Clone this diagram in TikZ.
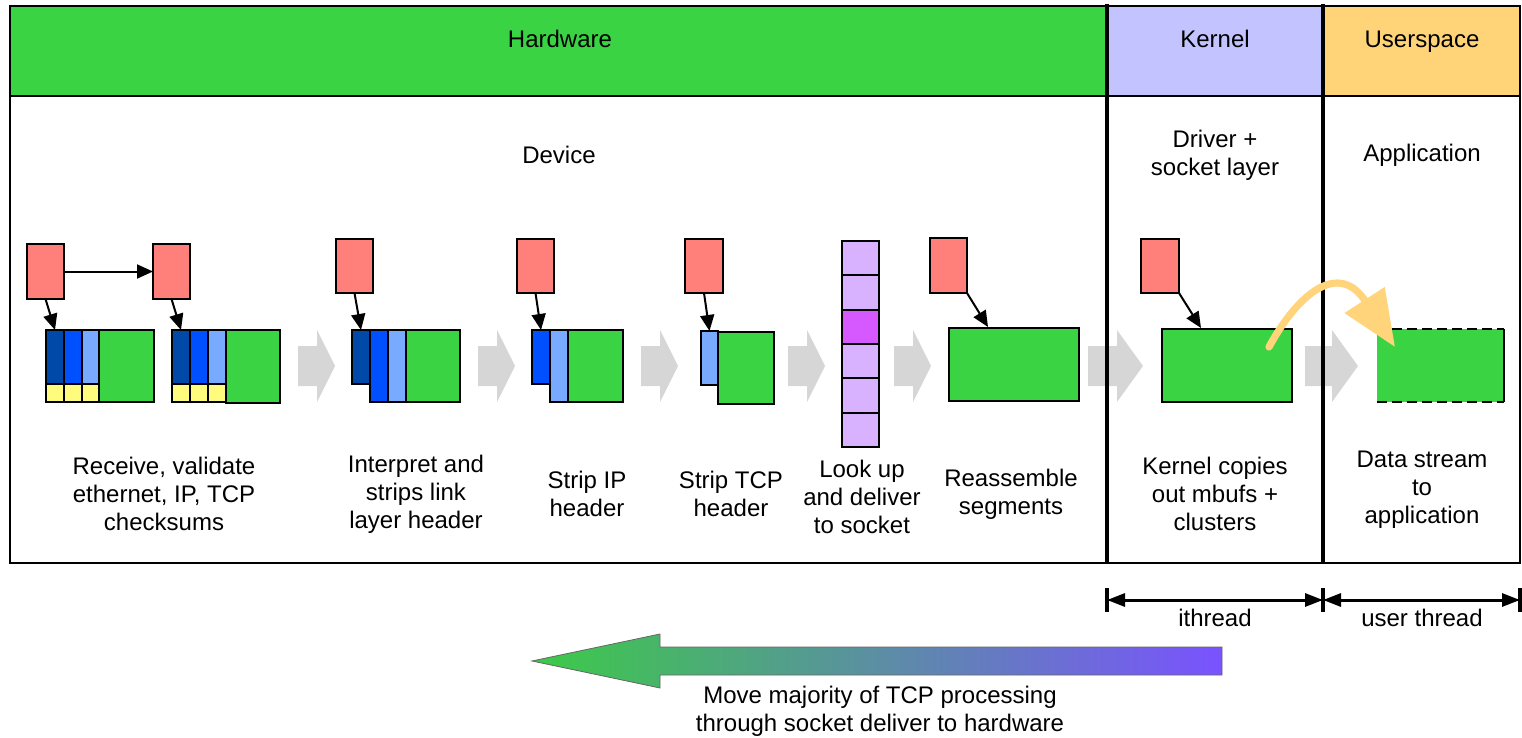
\documentclass[tikz,border=0pt]{standalone}
\usepackage{fontspec}
\setmainfont{Liberation Sans}
\usetikzlibrary{arrows.meta}
\definecolor{hwgreen}{HTML}{3AD344}
\definecolor{kern}{HTML}{C3C3FF}
\definecolor{user}{HTML}{FFD479}
\definecolor{redb}{HTML}{FF7F7B}
\definecolor{dblue}{HTML}{0049A8}
\definecolor{mblue}{HTML}{0050FF}
\definecolor{lblue}{HTML}{78AAFF}
\definecolor{yel}{HTML}{FFFB7D}
\definecolor{lpur}{HTML}{D8B1FF}
\definecolor{mag}{HTML}{D658FF}
\definecolor{garrowc}{HTML}{D6D6D6}
\definecolor{curvec}{HTML}{FFD47A}
\definecolor{gradA}{HTML}{3CCB47}
\definecolor{gradB}{HTML}{7A52FF}
\newcommand\mybox[7]{\node[#6, anchor=north west, inner sep=0pt, outer sep=0pt, minimum width={(#4-#2)*0.5pt}, minimum height={(#5-#3)*0.5pt}] (#1) at (#2,#3) {#7};}
\newcommand\garrow[3]{\fill[garrowc] (#1,346) -- ++(#2,0) -- ++(0,-16) -- ++(#3,36) -- ++(-#3,36) -- ++(0,-16) -- ++(-#2,0) -- cycle;}
\tikzset{
  seg/.style={draw=black, line width=1pt},
  pk/.style={seg, fill=hwgreen},
  redbox/.style={seg, fill=redb},
  cell/.style={seg, fill=lpur},
  ptr/.style={draw=black, line width=1pt, -{Triangle[length=8pt,width=7pt]}},
  lbl/.style={align=center, font=\fontsize{12}{14}\selectfont, inner sep=0pt},
  thick bar/.style={line width=2.2pt, draw=black},
}
\begin{document}
\begin{tikzpicture}[x=0.5pt,y=-0.5pt]
\useasboundingbox (0,0) rectangle (1522,738);
% header bands
\mybox{hw}{10}{6}{1107}{96}{fill=hwgreen}{}
\mybox{kn}{1107}{6}{1323}{96}{fill=kern}{}
\mybox{us}{1323}{6}{1520}{96}{fill=user}{}
\node[lbl, anchor=base] (thw) at (560,48) {Hardware};
\node[lbl, anchor=base] (tkn) at (1215,48) {Kernel};
\node[lbl, anchor=base] (tus) at (1422,48) {Userspace};
\draw[line width=1pt] (10,6) rectangle (1520,563);
\draw[line width=1pt] (10,96) -- (1520,96);
% section titles
\node[lbl] (tdev) at (559,155) {Device};
\node[lbl] (tdrv) at (1215,155) {Driver +\\socket layer};
\node[lbl] (tapp) at (1422,155) {Application};
% gray flow arrows
\garrow{298}{19}{18}
\garrow{478}{19}{18}
\garrow{641}{19}{18}
\garrow{788}{19}{18}
\garrow{894}{19}{18}
\garrow{1088}{29}{26}
\garrow{1305}{27}{26}
% packet 1
\mybox{p1g}{99}{330}{154}{402}{pk}{}
\mybox{p1a}{46}{330}{64}{384}{seg, fill=dblue}{}
\mybox{p1b}{64}{330}{82}{384}{seg, fill=mblue}{}
\mybox{p1c}{82}{330}{99}{384}{seg, fill=lblue}{}
\mybox{p1x}{46}{384}{64}{402}{seg, fill=yel}{}
\mybox{p1y}{64}{384}{82}{402}{seg, fill=yel}{}
\mybox{p1z}{82}{384}{99}{402}{seg, fill=yel}{}
% packet 2
\mybox{p2a}{172}{330}{190}{384}{seg, fill=dblue}{}
\mybox{p2b}{190}{330}{208}{384}{seg, fill=mblue}{}
\mybox{p2c}{208}{330}{226}{384}{seg, fill=lblue}{}
\mybox{p2x}{172}{384}{190}{402}{seg, fill=yel}{}
\mybox{p2y}{190}{384}{208}{402}{seg, fill=yel}{}
\mybox{p2z}{208}{384}{226}{402}{seg, fill=yel}{}
\mybox{p2g}{226}{330}{280}{403}{pk}{}
% packet 3
\mybox{p3a}{352}{330}{370}{384}{seg, fill=dblue}{}
\mybox{p3b}{370}{330}{388}{402}{seg, fill=mblue}{}
\mybox{p3c}{388}{330}{406}{402}{seg, fill=lblue}{}
\mybox{p3g}{406}{330}{460}{402}{pk}{}
% packet 4
\mybox{p4a}{532}{330}{550}{384}{seg, fill=mblue}{}
\mybox{p4c}{550}{330}{568}{402}{seg, fill=lblue}{}
\mybox{p4g}{568}{330}{623}{402}{pk}{}
% packet 5
\mybox{p5a}{701}{331}{718}{385}{seg, fill=lblue}{}
\mybox{p5g}{718}{332}{774}{404}{pk}{}
% socket table
\mybox{c1}{842}{241}{879}{275}{cell}{}
\mybox{c2}{842}{275}{879}{310}{cell}{}
\mybox{c3}{842}{310}{879}{344}{seg, fill=mag}{}
\mybox{c4}{842}{344}{879}{378}{cell}{}
\mybox{c5}{842}{378}{879}{413}{cell}{}
\mybox{c6}{842}{413}{879}{447}{cell}{}
% reassembled
\mybox{p6g}{949}{328}{1079}{401}{pk}{}
\mybox{p7g}{1162}{329}{1292}{402}{pk}{}
% data stream (dashed)
\fill[hwgreen] (1377,329) rectangle (1504,402);
\draw[line width=1pt, dash pattern=on 5pt off 2.5pt] (1377,329) -- (1504,329);
\draw[line width=1pt, dash pattern=on 5pt off 2.5pt] (1377,402) -- (1504,402);
\draw[line width=1pt] (1504,329) -- (1504,402);
\node[inner sep=0pt] (p8g) at (1440,365) {};
% red mbuf boxes
\mybox{r1}{27}{244}{64}{299}{redbox}{}
\mybox{r2}{153}{244}{190}{299}{redbox}{}
\mybox{r3}{336}{239}{373}{293}{redbox}{}
\mybox{r4}{517}{239}{554}{293}{redbox}{}
\mybox{r5}{685}{239}{723}{293}{redbox}{}
\mybox{r6}{930}{238}{967}{293}{redbox}{}
\mybox{r7}{1141}{239}{1179}{293}{redbox}{}
\coordinate (t6) at (988,327);
\coordinate (t7) at (1201,328);
% pointers
\draw[ptr] (r1.east) -- (r2.west);
\draw[ptr] (r1.south) -- (p1a.north);
\draw[ptr] (r2.south) -- (p2a.north);
\draw[ptr] (r3.south) -- (p3a.north);
\draw[ptr] (r4.south) -- (p4a.north);
\draw[ptr] (r5.south) -- (p5a.north);
\draw[ptr] (r6.south east) -- (t6);
\draw[ptr] (r7.south east) -- (t7);
% thick separators
\draw[thick bar] (1107,4) -- (1107,563);
\draw[thick bar] (1323,4) -- (1323,563);
% copy curve
\coordinate (cs) at (1269,347);
\coordinate (ce) at (1395,347);
\draw[curvec, line width=3.6pt, line cap=round, -{Triangle[length=28pt,width=23pt]}] (cs) .. controls (1300,290) and (1340,262) .. (ce);
% labels
\node[lbl] (l1) at (164,494) {Receive, validate\\ethernet, IP, TCP\\checksums};
\node[lbl] (l2) at (416,494) {Interpret and\\strips link\\layer header};
\node[lbl] (l3) at (587,494) {Strip IP\\header};
\node[lbl] (l4) at (731,494) {Strip TCP\\header};
\node[lbl] (l5) at (862,497) {Look up\\and deliver\\to socket};
\node[lbl] (l6) at (1011,494) {Reassemble\\segments};
\node[lbl] (l7) at (1215,494) {Kernel copies\\out mbufs +\\clusters};
\node[lbl] (l8) at (1422,490) {Data stream\\to\\application};
% thread spans
\coordinate (d1) at (1107,600);
\coordinate (d2) at (1323,600);
\coordinate (d3) at (1520,600);
\draw[line width=2pt] (1107,588) -- (1107,612);
\draw[line width=2pt] (1323,588) -- (1323,612);
\draw[line width=2pt] (1520,588) -- (1520,612);
\draw[line width=1.5pt, {Triangle[length=9pt,width=6.5pt]}-{Triangle[length=9pt,width=6.5pt]}] (d1) -- (d2);
\draw[line width=1.5pt, {Triangle[length=9pt,width=6.5pt]}-{Triangle[length=9pt,width=6.5pt]}] (d2) -- (d3);
\node[lbl] (ith) at (1215,618) {ithread};
\node[lbl] (uth) at (1422,618) {user thread};
% big gradient arrow
\shadedraw[left color=gradA, right color=gradB, draw=black!60, line width=0.4pt] (1222,647) -- (660,647) -- (660,634) -- (532,661) -- (660,688) -- (660,675) -- (1222,675) -- cycle;
\node[lbl] (mv) at (880,711) {Move majority of TCP processing\\through socket deliver to hardware};
\end{tikzpicture}
\end{document}
